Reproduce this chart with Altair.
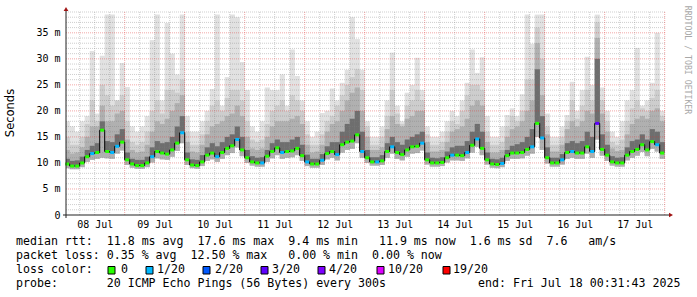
import altair as alt
import pandas as pd

# ---------------- data ----------------
hours = list(range(1, 240, 2))  # centre of each 2-hour column, hours since 08 Jul 00:00

median = [
    9.8, 9.4, 9.4, 10.0, 11.2, 11.8, 12.0, 16.3, 12.2, 12.0, 13.2, 14.0,
    10.6, 9.8, 9.5, 9.5, 10.0, 11.2, 12.2, 11.9, 11.7, 12.5, 13.8, 15.8,
    10.6, 9.6, 9.5, 10.2, 11.5, 11.9, 11.2, 12.0, 12.8, 13.3, 14.5, 12.5,
    11.0, 10.2, 10.0, 10.0, 11.3, 12.2, 12.9, 12.0, 12.2, 12.3, 12.8, 11.4,
    10.2, 9.8, 9.8, 10.5, 11.8, 12.2, 11.6, 13.5, 14.0, 14.2, 15.4, 12.2,
    11.0, 10.2, 10.2, 10.4, 12.2, 13.1, 12.0, 11.6, 12.5, 13.1, 13.2, 13.8,
    10.6, 10.0, 10.0, 10.1, 11.0, 11.5, 11.5, 11.4, 12.0, 13.4, 14.6, 12.8,
    10.6, 9.8, 9.7, 9.9, 11.4, 11.9, 11.9, 12.0, 12.6, 13.1, 17.6, 14.8,
    11.0, 10.0, 10.0, 10.6, 12.0, 12.2, 11.9, 11.9, 13.1, 12.2, 17.6, 12.6,
    11.5, 10.2, 10.0, 10.0, 11.5, 12.2, 12.6, 13.5, 12.5, 14.1, 13.5, 11.9,
]

smoke_lo = [
    9.0, 8.8, 8.8, 9.2, 10.2, 10.6, 10.8, 11.0, 10.9, 10.8, 11.8, 12.4,
    9.6, 9.1, 8.9, 8.9, 9.2, 10.1, 10.9, 10.7, 10.6, 11.2, 12.3, 13.8,
    9.6, 9.0, 8.9, 9.4, 10.4, 10.7, 10.2, 10.8, 11.5, 11.9, 13.0, 11.3,
    10.0, 9.5, 9.3, 9.3, 10.2, 10.9, 11.5, 10.8, 11.0, 11.1, 11.5, 10.4,
    9.4, 9.1, 9.1, 9.6, 10.7, 11.0, 10.5, 12.0, 12.5, 12.7, 13.8, 11.0,
    10.0, 9.5, 9.5, 9.6, 11.0, 11.8, 10.8, 10.5, 11.2, 11.8, 11.9, 12.4,
    9.7, 9.3, 9.3, 9.4, 10.1, 10.5, 10.5, 10.4, 10.9, 12.0, 13.1, 11.5,
    9.7, 9.1, 9.0, 9.2, 10.4, 10.8, 10.8, 10.9, 11.4, 11.8, 15.0, 12.5,
    9.9, 9.3, 9.3, 9.7, 10.8, 11.0, 10.8, 10.8, 11.8, 11.0, 14.5, 11.4,
    10.4, 9.5, 9.3, 9.3, 10.5, 11.0, 11.4, 12.1, 11.3, 12.7, 12.2, 10.8,
]

smoke_dark = [
    10.8, 10.4, 10.5, 11.2, 12.5, 13.3, 13.8, 18.0, 14.2, 14.0, 15.5, 16.5,
    12.0, 10.8, 10.6, 10.6, 11.2, 13.0, 14.2, 13.8, 14.0, 15.0, 17.0, 19.0,
    12.0, 10.7, 10.6, 11.5, 13.0, 13.8, 13.2, 14.0, 15.0, 15.5, 17.0, 15.0,
    12.5, 11.3, 11.0, 11.1, 12.5, 13.8, 14.5, 14.0, 14.0, 14.5, 15.0, 13.5,
    11.6, 10.8, 10.8, 11.7, 13.2, 14.0, 14.0, 16.0, 17.5, 18.5, 20.0, 16.0,
    12.5, 11.1, 11.1, 11.5, 13.8, 15.0, 14.0, 13.5, 14.5, 15.0, 15.5, 16.0,
    12.0, 11.0, 10.9, 11.1, 12.2, 13.0, 13.3, 13.3, 14.2, 16.0, 17.5, 16.0,
    12.0, 10.8, 10.7, 11.0, 12.5, 13.3, 13.6, 14.0, 15.0, 16.5, 28.0, 19.0,
    13.0, 11.0, 11.0, 11.7, 13.8, 14.2, 13.8, 14.2, 16.0, 15.0, 30.0, 15.5,
    13.5, 11.3, 11.0, 11.1, 13.0, 14.2, 14.5, 15.5, 14.5, 16.5, 16.0, 14.0,
]

smoke_mid = [
    12.5, 11.8, 12.0, 13.0, 15.0, 17.0, 17.0, 21.0, 18.0, 18.0, 19.5, 20.0,
    14.5, 12.5, 12.0, 12.2, 13.5, 16.0, 18.0, 17.5, 18.5, 20.0, 21.5, 23.0,
    14.0, 12.2, 12.0, 13.5, 15.5, 17.0, 17.5, 18.0, 19.0, 19.5, 21.0, 19.0,
    15.0, 12.8, 12.5, 12.8, 15.0, 17.0, 18.0, 18.0, 18.0, 18.5, 19.0, 17.5,
    13.5, 12.0, 12.2, 13.5, 16.0, 17.5, 18.0, 20.0, 22.0, 23.5, 24.5, 20.0,
    15.0, 12.5, 12.5, 13.0, 16.5, 19.0, 17.5, 17.0, 18.5, 19.0, 20.0, 20.0,
    14.0, 12.2, 12.2, 12.5, 14.0, 16.0, 16.5, 17.0, 18.5, 21.0, 22.0, 21.0,
    14.0, 12.0, 12.0, 12.5, 15.0, 16.5, 17.0, 18.0, 20.0, 22.0, 33.0, 23.0,
    15.5, 12.2, 12.2, 13.5, 16.5, 18.0, 17.0, 18.0, 20.0, 19.5, 34.0, 19.5,
    16.0, 12.8, 12.3, 12.5, 15.5, 17.5, 18.5, 19.0, 18.5, 20.0, 20.5, 18.0,
]

smoke_light = [
    15.0, 13.5, 13.5, 15.0, 17.5, 22.0, 18.0, 25.0, 23.0, 21.0, 22.0, 23.0,
    18.0, 14.0, 13.5, 14.0, 16.0, 20.0, 22.0, 19.5, 24.0, 24.0, 23.5, 26.0,
    16.0, 13.5, 13.5, 15.5, 18.0, 21.0, 22.0, 20.0, 22.5, 24.0, 24.0, 22.0,
    18.0, 14.5, 14.0, 14.5, 17.5, 20.0, 21.0, 22.0, 20.0, 23.0, 22.0, 20.0,
    15.5, 13.5, 13.5, 15.5, 18.0, 19.0, 21.0, 23.0, 25.0, 26.5, 28.0, 24.0,
    17.0, 13.5, 13.5, 15.0, 19.0, 24.0, 19.5, 17.5, 21.0, 22.0, 24.0, 22.0,
    15.5, 13.5, 13.5, 14.0, 16.0, 18.0, 17.5, 20.0, 23.0, 25.0, 25.0, 24.0,
    16.0, 13.5, 13.5, 14.0, 17.0, 19.0, 18.0, 20.0, 26.0, 26.0, 36.0, 30.0,
    17.0, 13.5, 13.5, 15.0, 18.0, 22.0, 18.5, 21.0, 24.0, 22.0, 37.0, 22.0,
    18.0, 14.0, 13.5, 14.5, 18.0, 20.5, 22.0, 20.5, 20.0, 22.5, 24.0, 19.0,
]

smoke_max = [
    18, 17, 16, 18, 19, 31.5, 19.5, 30.6, 38.5, 38.5, 22, 29.2,
    24.6, 17, 16, 17, 19, 33.6, 38.5, 22, 36.9, 31, 27, 38.5,
    19, 16, 16, 18, 20, 24.2, 38.5, 21, 26.5, 38.5, 38, 29.4,
    24, 17, 16, 18, 24.5, 24, 24, 27, 21, 31.8, 26.7, 22,
    18, 15, 16, 19.6, 20, 24.3, 22, 25.4, 27.9, 38, 33.8, 27.9,
    18, 15, 15, 17, 22, 31.2, 21, 18, 23.5, 25, 30.2, 24,
    17, 15, 15, 16, 18, 20, 19, 22, 25.4, 31.8, 27.3, 30.3,
    19, 15, 15, 17, 19.2, 20.5, 19, 23.2, 38.5, 32.9, 38.5, 38.5,
    19.5, 15, 15, 17, 19.2, 25.6, 20, 24, 30.4, 25, 38.5, 24.5,
    20, 16, 15, 18, 22, 24, 32.1, 21, 22, 25.4, 35, 20,
]

loss_idx = [
    0, 0, 0, 0, 0, 1, 0, 0, 0, 1, 1, 0,
    0, 0, 0, 0, 0, 1, 0, 0, 0, 0, 0, 1,
    0, 0, 0, 0, 0, 0, 1, 0, 0, 0, 1, 0,
    0, 0, 0, 1, 0, 0, 0, 1, 0, 0, 0, 0,
    1, 0, 0, 1, 0, 0, 1, 0, 0, 0, 0, 1,
    0, 0, 1, 0, 0, 1, 0, 0, 0, 0, 0, 1,
    0, 0, 0, 0, 0, 1, 0, 0, 1, 0, 1, 0,
    0, 0, 0, 1, 0, 0, 0, 0, 0, 1, 0, 1,
    0, 0, 0, 1, 0, 1, 0, 0, 0, 1, 3, 0,
    0, 0, 0, 0, 0, 0, 0, 0, 0, 0, 1, 0,
]

loss_labels = ["0", "1/20", "2/20", "3/20", "4/20", "10/20", "19/20"]
loss_colors = ["#26ff00", "#00b8ff", "#0059ff", "#5e00ff", "#7e00ff", "#dd00ff", "#ff0000"]
day_labels = ["08 Jul", "09 Jul", "10 Jul", "11 Jul", "12 Jul",
              "13 Jul", "14 Jul", "15 Jul", "16 Jul", "17 Jul"]
y_ticks = [0, 5, 10, 15, 20, 25, 30, 35]

line1 = "median rtt:  11.8 ms avg  17.6 ms max  9.4 ms min   11.9 ms now  1.6 ms sd  7.6   am/s"
line2 = "packet loss: 0.35 % avg  12.50 % max   0.00 % min  0.00 % now"
line3 = "loss color:"
line4 = "probe:       20 ICMP Echo Pings (56 Bytes) every 300s"
line4b = "end: Fri Jul 18 00:31:43 2025"
side_text = "RRDTOOL / TOBI OETIKER"

# ---------------- layout ----------------
W, H = 600, 203
MONO = "DejaVu Sans Mono"

df = pd.DataFrame({
    "h": hours, "median": median, "lo": smoke_lo, "dark": smoke_dark,
    "mid": smoke_mid, "light": smoke_light, "mx": smoke_max,
    "loss": [loss_labels[i] for i in loss_idx],
})

xs = alt.Scale(domain=[0.52, 240.52], nice=False, zero=False)
ys = alt.Scale(domain=[0, 39], nice=False, zero=False)

label_js = "[" + ",".join("'%s'" % d for d in day_labels) + "]"
x_axis = alt.Axis(values=[12 + 24 * i for i in range(len(day_labels))],
                  labelExpr=label_js + "[floor(datum.value / 24)]",
                  title=None, grid=False, ticks=False, domain=False,
                  labelFont=MONO, labelFontSize=10, labelColor="#000",
                  labelPadding=4, labelAngle=0, labelFlush=False, labelOverlap=False)
y_axis = alt.Axis(values=y_ticks,
                  labelExpr="datum.value == 0 ? '0' : datum.value + ' m'",
                  title=None, grid=False, ticks=False, domain=False,
                  labelFont=MONO, labelFontSize=10, labelColor="#000",
                  labelPadding=6, labelFlush=False, labelOverlap=False)

base = alt.Chart(df).transform_calculate(x0="datum.h - 1", x1="datum.h + 1.08")


def band(lo, hi, color):
    return base.mark_rect(color=color, clip=True).encode(
        x=alt.X("x0:Q", scale=xs, axis=x_axis), x2="x1:Q",
        y=alt.Y(lo + ":Q", scale=ys, axis=y_axis), y2=hi + ":Q")


smoke = [
    band("lo", "mx", "#e1e1e1"),
    band("lo", "light", "#cdcdcd"),
    band("lo", "mid", "#b0b0b0"),
    band("median", "dark", "#6e6e6e"),
]

# grid (semi-transparent, drawn over the smoke like rrdtool)
h_minor = pd.DataFrame({"v": [v for v in range(1, 40) if v % 5 != 0]})
h_major = pd.DataFrame({"v": [v for v in range(5, 39, 5)]})
v_minor = pd.DataFrame({"v": [v for v in range(6, 241, 6) if v % 24 != 0]})
v_major = pd.DataFrame({"v": list(range(24, 241, 24))})

GRID = dict(color="#7f7f7f", opacity=0.38, strokeDash=[1, 1], strokeWidth=1)
MGRID = dict(color="#e03030", opacity=0.42, strokeDash=[1, 1], strokeWidth=1)
grid = [
    alt.Chart(h_minor).mark_rule(**GRID).encode(
        y=alt.Y("v:Q", scale=ys, axis=y_axis), x=alt.value(0), x2=alt.value(W)),
    alt.Chart(v_minor).mark_rule(**GRID).encode(
        x=alt.X("v:Q", scale=xs, axis=x_axis), y=alt.value(0), y2=alt.value(H)),
    alt.Chart(h_major).mark_rule(**MGRID).encode(
        y=alt.Y("v:Q", scale=ys, axis=y_axis), x=alt.value(0), x2=alt.value(W)),
    alt.Chart(v_major).mark_rule(**MGRID).encode(
        x=alt.X("v:Q", scale=xs, axis=x_axis), y=alt.value(0), y2=alt.value(H)),
]

med_line = alt.Chart(df).mark_line(interpolate="step", color="#000", strokeWidth=1).encode(
    x=alt.X("h:Q", scale=xs, axis=x_axis), y=alt.Y("median:Q", scale=ys, axis=y_axis))
med_ticks = alt.Chart(df).mark_tick(orient="horizontal", thickness=3, size=4, opacity=1).encode(
    x=alt.X("h:Q", scale=xs, axis=x_axis), y=alt.Y("median:Q", scale=ys, axis=y_axis),
    color=alt.Color("loss:N", scale=alt.Scale(domain=loss_labels, range=loss_colors), legend=None))

one = pd.DataFrame({"t": [""]})
axes_lines = [
    alt.Chart(one).mark_rule(color="#222", strokeWidth=1).encode(
        x=alt.value(-3), x2=alt.value(604), y=alt.value(H)),
    alt.Chart(one).mark_rule(color="#222", strokeWidth=1).encode(
        x=alt.value(0), y=alt.value(H + 3), y2=alt.value(-2)),
    alt.Chart(one).mark_point(shape="triangle-up", filled=True, size=22, color="#a01414", opacity=1).encode(
        x=alt.value(0), y=alt.value(-3)),
    alt.Chart(one).mark_point(shape="triangle-right", filled=True, size=22, color="#a01414", opacity=1).encode(
        x=alt.value(605), y=alt.value(H)),
]


def text(t, x, y, size=11.6, font=MONO, align="left", baseline="alphabetic", angle=0, color="#000"):
    return alt.Chart(pd.DataFrame({"t": [t.replace(" ", "\u00a0")]})).mark_text(
        align=align, baseline=baseline, font=font, fontSize=size, color=color, angle=angle
    ).encode(text="t:N", x=alt.value(x), y=alt.value(y))


texts = [
    text("Seconds", -55, 101, size=11.5, font="DejaVu Sans", align="center", baseline="middle", angle=270),
    text(side_text, 621, 48, size=8.2, align="center", baseline="middle", angle=90, color="#a8a8a8"),
    text(line1, -50, 233),
    text(line2, -50, 247),
    text(line3, -50, 261),
    text(line4, -50, 275),
    text(line4b, 412, 275),
]

sq_x = [42, 80, 137, 195, 252, 311, 377]
lab_x = [55, 91, 149, 206, 263, 322, 387]
legend = []
for i, lab in enumerate(loss_labels):
    legend.append(alt.Chart(one).mark_rect(color=loss_colors[i], stroke="#000", strokeWidth=1).encode(
        x=alt.value(sq_x[i]), x2=alt.value(sq_x[i] + 7), y=alt.value(254.5), y2=alt.value(262)))
    legend.append(text(lab, lab_x[i], 261))

chart = alt.layer(*smoke, *grid, med_line, med_ticks, *axes_lines, *texts, *legend).properties(
    width=W, height=H,
    padding={"left": 66, "top": 12, "right": 31, "bottom": 82},
    autosize=alt.AutoSizeParams(type="none"),
    background="#ffffff",
).configure_view(stroke=None)

chart.save("out.html", embed_options={"renderer": "svg", "actions": False})
